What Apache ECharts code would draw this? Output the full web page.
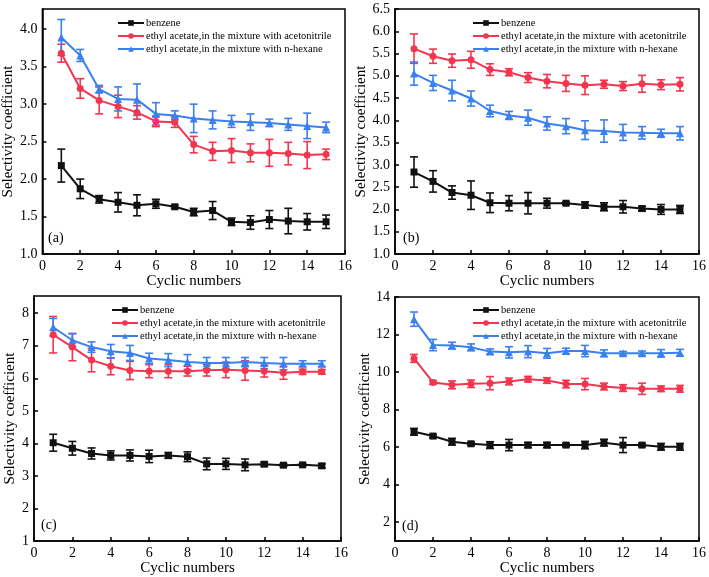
<!DOCTYPE html>
<html><head><meta charset="utf-8">
<script src="https://cdn.jsdelivr.net/npm/echarts@6/dist/echarts.min.js"></script>
<style>html,body{margin:0;padding:0;background:#fff}#c{width:709px;height:577px}</style>
</head><body><div id="c"></div>
<script>
const cycles = [1,2,3,4,5,6,7,8,9,10,11,12,13,14,15];
const seriesNames = ['benzene','ethyl acetate,in the mixture with acetonitrile','ethyl acetate,in the mixture with n-hexane'];
const panelLabels = ['(a)','(b)','(c)','(d)'];
const xTicks = [0,2,4,6,8,10,12,14,16];
const yTicksA = [1.0,1.5,2.0,2.5,3.0,3.5,4.0];
const yTicksB = [1.0,1.5,2.0,2.5,3.0,3.5,4.0,4.5,5.0,5.5,6.0,6.5];
const yTicksC = [1,2,3,4,5,6,7,8];
const yTicksD = [2,4,6,8,10,12,14];

// panel (a)
const aBenzene = [2.18,1.87,1.73,1.69,1.65,1.67,1.63,1.56,1.58,1.43,1.42,1.46,1.44,1.43,1.43];
const aBenzeneErr = [0.22,0.13,0.05,0.13,0.14,0.06,0.02,0.05,0.12,0.05,0.09,0.12,0.17,0.11,0.09];
const aAcetonitrile = [3.68,3.21,3.05,2.97,2.89,2.77,2.76,2.46,2.37,2.38,2.35,2.35,2.34,2.32,2.33];
const aAcetonitrileErr = [0.12,0.13,0.18,0.15,0.09,0.07,0.07,0.11,0.12,0.16,0.12,0.18,0.15,0.18,0.07];
const aHexane = [3.89,3.65,3.20,3.07,3.06,2.87,2.85,2.81,2.79,2.77,2.76,2.75,2.73,2.71,2.69];
const aHexaneErr = [0.24,0.08,0.05,0.16,0.21,0.15,0.06,0.19,0.12,0.08,0.11,0.05,0.08,0.17,0.07];
// panel (b)
const bBenzene = [2.84,2.63,2.38,2.32,2.15,2.14,2.14,2.14,2.14,2.10,2.06,2.06,2.02,2.00,2.00];
const bBenzeneErr = [0.34,0.24,0.15,0.32,0.22,0.17,0.24,0.11,0.03,0.07,0.09,0.14,0.05,0.11,0.09];
const bAcetonitrile = [5.61,5.44,5.34,5.36,5.14,5.08,4.96,4.88,4.83,4.79,4.81,4.77,4.82,4.80,4.81];
const bAcetonitrileErr = [0.33,0.16,0.15,0.19,0.13,0.08,0.11,0.15,0.18,0.21,0.09,0.10,0.19,0.11,0.15];
const bHexane = [5.05,4.84,4.67,4.49,4.21,4.11,4.06,3.93,3.87,3.78,3.76,3.73,3.72,3.71,3.71];
const bHexaneErr = [0.26,0.17,0.23,0.17,0.13,0.09,0.17,0.15,0.17,0.21,0.25,0.18,0.14,0.09,0.15];
// panel (c)
const cBenzene = [4.02,3.85,3.69,3.63,3.63,3.60,3.63,3.59,3.37,3.37,3.34,3.36,3.33,3.34,3.31];
const cBenzeneErr = [0.26,0.21,0.17,0.14,0.17,0.19,0.09,0.15,0.18,0.17,0.18,0.06,0.04,0.03,0.06];
const cAcetonitrile = [7.34,6.96,6.56,6.37,6.24,6.22,6.22,6.22,6.25,6.26,6.24,6.22,6.17,6.20,6.20];
const cAcetonitrileErr = [0.56,0.42,0.36,0.26,0.28,0.20,0.20,0.15,0.18,0.24,0.30,0.18,0.20,0.08,0.07];
const cHexane = [7.57,7.17,6.96,6.83,6.78,6.61,6.56,6.50,6.47,6.47,6.50,6.47,6.45,6.45,6.45];
const cHexaneErr = [0.27,0.20,0.16,0.21,0.23,0.16,0.20,0.23,0.17,0.17,0.14,0.17,0.19,0.09,0.09];
// panel (d)
const dBenzene = [6.82,6.59,6.29,6.18,6.11,6.11,6.11,6.11,6.11,6.11,6.24,6.11,6.11,6.02,6.02];
const dBenzeneErr = [0.18,0.08,0.18,0.08,0.18,0.30,0.14,0.14,0.08,0.20,0.18,0.40,0.08,0.18,0.18];
const dAcetonitrile = [10.73,9.45,9.32,9.38,9.41,9.50,9.62,9.55,9.36,9.36,9.23,9.15,9.11,9.11,9.11];
const dAcetonitrileErr = [0.21,0.10,0.21,0.20,0.35,0.18,0.15,0.15,0.20,0.30,0.18,0.18,0.30,0.15,0.18];
const dHexane = [12.82,11.44,11.41,11.32,11.09,11.05,11.09,11.00,11.12,11.12,11.00,11.00,11.00,11.00,11.03];
const dHexaneErr = [0.38,0.30,0.18,0.18,0.14,0.30,0.32,0.26,0.15,0.30,0.18,0.10,0.12,0.20,0.18];

const colors = ['#111111','#f3364f','#3b80ef'];
const symbols = ['rect','circle','triangle'];
const symbolSizes = [7,7,8];
const FONT = 'Liberation Serif';

const panels = [
  {grid:{left:40,top:9,width:305,height:245}, min:1, max:4.27, ticks:yTicksA, dec:1, nameGap:22,
   vals:[aBenzene,aAcetonitrile,aHexane], errs:[aBenzeneErr,aAcetonitrileErr,aHexaneErr], legend:{left:117,top:17}, label:[48,239]},
  {grid:{left:395,top:9,width:305,height:245}, min:1, max:6.5, ticks:yTicksB, dec:1, nameGap:21,
   vals:[bBenzene,bAcetonitrile,bHexane], errs:[bBenzeneErr,bAcetonitrileErr,bHexaneErr], legend:{left:472,top:17}, label:[403,239]},
  {grid:{left:34,top:296,width:307,height:246}, min:1, max:8.53, ticks:yTicksC, dec:0, nameGap:16,
   vals:[cBenzene,cAcetonitrile,cHexane], errs:[cBenzeneErr,cAcetonitrileErr,cHexaneErr], legend:{left:111,top:304}, label:[41,526]},
  {grid:{left:395,top:297,width:305,height:245}, min:1, max:14, ticks:yTicksD, dec:0, nameGap:21,
   vals:[dBenzene,dAcetonitrile,dHexane], errs:[dBenzeneErr,dAcetonitrileErr,dHexaneErr], legend:{left:472,top:304}, label:[402,527]}
];

const grids=[], xAxes=[], yAxes=[], series=[], legends=[], graphics=[];
panels.forEach((p,i)=>{
  grids.push(Object.assign({show:true, borderColor:'#000', borderWidth:1.5, backgroundColor:'transparent'}, p.grid));
  xAxes.push({type:'value', gridIndex:i, min:0, max:16, interval:2,
    name:'Cyclic numbers', nameLocation:'middle', nameGap:20,
    nameTextStyle:{fontFamily:FONT, fontSize:15, color:'#000'},
    axisLine:{lineStyle:{color:'#000', width:1.5}},
    axisTick:{inside:true, length:4, lineStyle:{color:'#000', width:1.5}},
    axisLabel:{fontFamily:FONT, fontSize:14, color:'#000', margin:5},
    splitLine:{show:false}});
  yAxes.push({type:'value', gridIndex:i, min:p.min, max:p.max,
    name:'Selectivity coefficient', nameLocation:'middle', nameGap:p.nameGap, nameRotate:90,
    nameTextStyle:{fontFamily:FONT, fontSize:15, color:'#000'},
    axisLine:{lineStyle:{color:'#000', width:1.5}},
    axisTick:{inside:true, length:4, customValues:p.ticks, lineStyle:{color:'#000', width:1.5}},
    axisLabel:{fontFamily:FONT, fontSize:14, color:'#000', margin:5, customValues:p.ticks,
      formatter:(v)=>Number(v).toFixed(p.dec)},
    splitLine:{show:false}});
  for(let s=0;s<3;s++){
    const vals=p.vals[s], errs=p.errs[s];
    series.push({type:'custom', name:'err'+i+'_'+s, xAxisIndex:i, yAxisIndex:i, z:3,
      data: cycles.map((c,k)=>[c, vals[k], errs[k]]),
      encode:{x:0,y:1},
      renderItem:(params, api)=>{
        const x=api.value(0), y=api.value(1), e=api.value(2);
        const t=api.coord([x,y+e]), b=api.coord([x,y-e]);
        const st={stroke:colors[s], lineWidth:1.6};
        return {type:'group', children:[
          {type:'line', shape:{x1:t[0],y1:t[1],x2:b[0],y2:b[1]}, style:st},
          {type:'line', shape:{x1:t[0]-4,y1:t[1],x2:t[0]+4,y2:t[1]}, style:st},
          {type:'line', shape:{x1:b[0]-4,y1:b[1],x2:b[0]+4,y2:b[1]}, style:st}
        ]};
      }});
    series.push({type:'line', name:seriesNames[s], xAxisIndex:i, yAxisIndex:i, z:4,
      data: cycles.map((c,k)=>[c, vals[k]]),
      symbol:symbols[s], symbolSize:symbolSizes[s], showSymbol:true,
      lineStyle:{color:colors[s], width:2}, itemStyle:{color:colors[s]},
      animation:false});
  }
  legends.push({data:seriesNames, orient:'vertical', left:p.legend.left, top:p.legend.top,
    itemWidth:26, itemHeight:7, itemGap:1, padding:0, selectedMode:false,
    textStyle:{fontFamily:FONT, fontSize:10.5, lineHeight:12, color:'#000', padding:[0,0,0,-3]}});
  graphics.push({type:'text', left:p.label[0], top:p.label[1]-8,
    style:{text:panelLabels[i], font:'14px "Liberation Serif"', fill:'#000'}});
});

const chart = echarts.init(document.getElementById('c'), null, {renderer:'canvas'});
chart.setOption({animation:false, backgroundColor:'#fff', grid:grids, xAxis:xAxes, yAxis:yAxes,
  series:series, legend:legends, graphic:graphics});
</script></body></html>
